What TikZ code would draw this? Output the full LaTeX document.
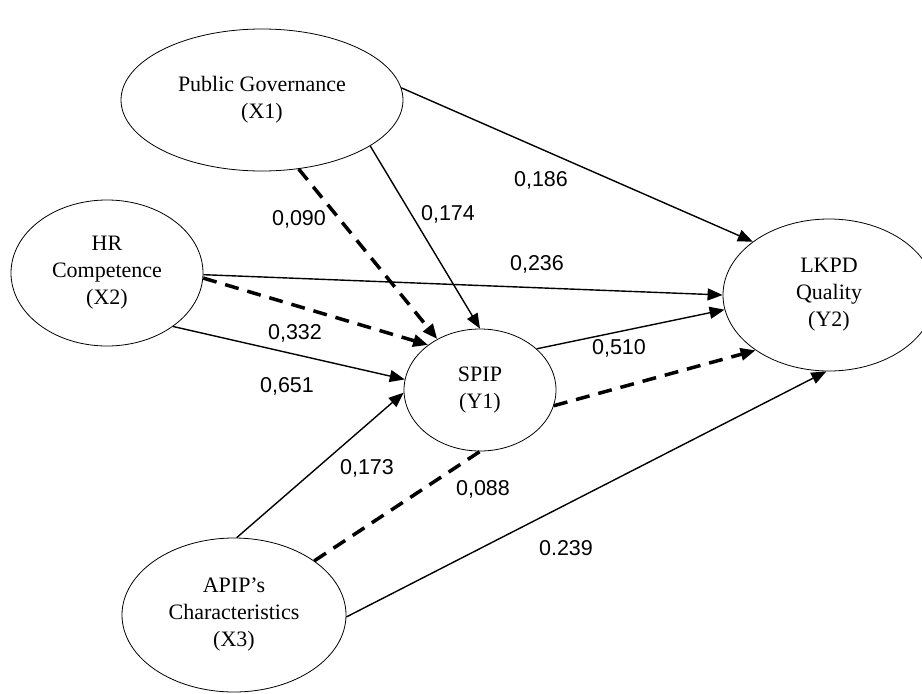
\documentclass[tikz,border=0pt]{standalone}
\usepackage{fontspec}
\setmainfont{Liberation Serif}
\newfontfamily\coeffont{Liberation Sans}
\usetikzlibrary{arrows.meta}
\usetikzlibrary{shapes.geometric}

\begin{document}
\begin{tikzpicture}[x=1pt, y=-1pt,
    latent/.style={ellipse, draw, line width=0.8pt, inner sep=0pt, align=center, font=\fontsize{22}{27}\selectfont},
    coef/.style={font=\coeffont\fontsize{21.5}{26}\selectfont, inner sep=0pt, text depth=0pt},
    direct/.style={line width=1.4pt, -{Triangle[length=15pt, width=12pt]}},
    dashline/.style={line width=3.5pt, dash pattern=on 14pt off 9pt},
    indirect/.style={dashline, -{Triangle[length=15pt, width=12pt]}}]
    \useasboundingbox (0,0) rectangle (922,694);

    \node[latent, minimum width=282pt, minimum height=142pt] (X1) at (262,100) {Public Governance\\(X1)};
    \node[latent, minimum width=192pt, minimum height=146pt] (X2) at (107,273) {HR\\Competence\\(X2)};
    \node[latent, minimum width=224pt, minimum height=154pt] (X3) at (234,615) {APIP’s\\Characteristics\\(X3)};
    \node[latent, minimum width=152pt, minimum height=122pt] (Y1) at (480,390) {SPIP\\(Y1)};
    \node[latent, minimum width=212pt, minimum height=152pt] (Y2) at (829,295) {LKPD\\Quality\\(Y2)};

    \draw[direct] (X1.5) -- (Y2.145);
    \draw[direct] (X1.-23) -- (Y1.90);
    \draw[indirect] (X1.-62) -- (Y1.130);
    \draw[direct] (X2.-1) -- (Y2.180);
    \draw[indirect] (X2.-3) -- (Y1.139);
    \draw[direct] (X2.-39) -- (Y1.172);
    \draw[direct] (X3.88) -- (Y1.182);
    \draw[dashline] (X3.34) -- (Y1.270);
    \draw[direct] (Y1.36) -- (Y2.188);
    \draw[indirect] (Y1.-12) -- (Y2.217);
    \draw[direct] (X3.-1) -- (Y2.268);

    \node[coef] (c186) at (541,179) {0,186};
    \node[coef] (c174) at (448,213) {0,174};
    \node[coef] (c236) at (537,263) {0,236};
    \node[coef] (c090) at (299,218) {0,090};
    \node[coef] (c332) at (295,332) {0,332};
    \node[coef] (c651) at (287,385) {0,651};
    \node[coef] (c510) at (619,347) {0,510};
    \node[coef] (c173) at (367,467) {0,173};
    \node[coef] (c088) at (483,488) {0,088};
    \node[coef] (c239) at (566,548) {0.239};
\end{tikzpicture}
\end{document}
